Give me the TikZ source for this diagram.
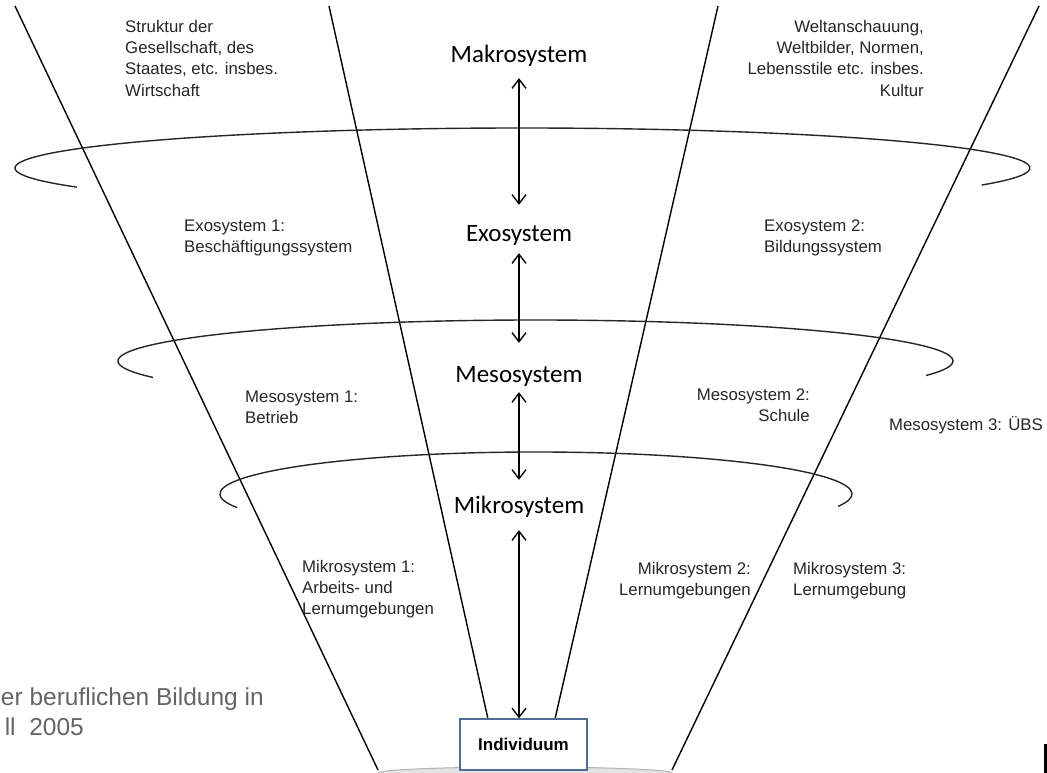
\documentclass[tikz,border=0pt]{standalone}
\usepackage{fontspec}
\setmainfont{Liberation Sans}
\newfontfamily\bigfont{Carlito}
\usetikzlibrary{arrows.meta}
\definecolor{boxblue}{RGB}{79,109,145}
\definecolor{capgray}{RGB}{100,100,100}
\begin{document}
\begin{tikzpicture}[x=1pt,y=-1pt,
  funnel/.style={line width=1.4pt, black},
  ring/.style={line width=1.4pt, black!85},
  lbl/.style={font=\fontsize{16.8}{21.3}\selectfont, text=black!85, inner sep=0pt},
  sys/.style={font=\bigfont\fontsize{25}{30}\selectfont, inner sep=0pt, anchor=base, text height=16pt, text depth=5pt},
  link/.style={line width=1.4pt, {Straight Barb[length=9pt,width=14pt]}-{Straight Barb[length=9pt,width=14pt]}},
  captext/.style={font=\fontsize{24.5}{30}\selectfont, text=capgray, inner sep=0pt, anchor=base east}
]
\useasboundingbox (0,0) rectangle (1047,773);
\clip (0,0) rectangle (1047,773);

% funnel lines
\draw[funnel] (15,6) -- (378,770);
\draw[funnel] (329,6) -- (488,719);
\draw[funnel] (718,6) -- (555,719);
\draw[funnel] (1039,6) -- (672,770);

% rings (open ellipses)
\draw[ring] (522.5,168) ++(151.4:507.5 and 40) arc[start angle=151.4, end angle=385.2, x radius=507.5, y radius=40];
\draw[ring] (535.5,361) ++(156.4:417.5 and 41) arc[start angle=156.4, end angle=380.7, x radius=417.5, y radius=41];
\draw[ring] (536,494) ++(161:316 and 42) arc[start angle=161, end angle=377, x radius=316, y radius=42];

% base ellipse and individual
\draw[fill=gray!22, draw=gray!60, line width=1pt] (525,773) ellipse [x radius=147, y radius=6];
\node[draw=boxblue, fill=white, line width=1.4pt, minimum width=127pt, minimum height=51pt, inner sep=0pt,
      font=\bfseries\fontsize{17}{20}\selectfont] (ind) at (523.5,744.5) {Individuum};

% system labels
\node[sys] (makro) at (519,63) {Makrosystem};
\node[sys] (exo) at (519,241) {Exosystem};
\node[sys] (meso) at (519,382) {Mesosystem};
\node[sys] (mikro) at (519,513) {Mikrosystem};

\draw[link, shorten <=10pt, shorten >=20pt] (makro.south) -- (exo.north);
\draw[link, shorten <=7pt, shorten >=23pt] (exo.south) -- (meso.north);
\draw[link, shorten <=5pt, shorten >=17pt] (meso.south) -- (mikro.north);
\draw[link, shorten <=12pt] (mikro.south) -- (mikro.south |- ind.north);

% side labels
\node[lbl, anchor=north west, align=left] (struktur) at (125,19.5) {\rule{0pt}{12.5pt}Struktur der\\Gesellschaft, des\\Staates, etc. insbes.\\Wirtschaft};
\node[lbl, anchor=north east, align=right] (welt) at (924,19.5) {\rule{0pt}{12.5pt}Weltanschauung,\\Weltbilder, Normen,\\Lebensstile etc. insbes.\\Kultur};
\node[lbl, anchor=north west, align=left] (exo1) at (184,218.5) {\rule{0pt}{12.5pt}Exosystem 1:\\Beschäftigungssystem};
\node[lbl, anchor=north west, align=left] (exo2) at (764,218.5) {\rule{0pt}{12.5pt}Exosystem 2:\\Bildungssystem};
\node[lbl, anchor=north west, align=left] (meso1) at (245,389.5) {\rule{0pt}{12.5pt}Mesosystem 1:\\Betrieb};
\node[lbl, anchor=north east, align=right] (meso2) at (810,387.5) {\rule{0pt}{12.5pt}Mesosystem 2:\\Schule};
\node[lbl, anchor=base east] (meso3) at (1043,430) {Mesosystem 3: ÜBS};
\node[lbl, anchor=north west, align=left] (mikro1) at (302,559.5) {\rule{0pt}{12.5pt}Mikrosystem 1:\\Arbeits- und\\Lernumgebungen};
\node[lbl, anchor=north east, align=right] (mikro2) at (751,561.5) {\rule{0pt}{12.5pt}Mikrosystem 2:\\Lernumgebungen};
\node[lbl, anchor=north west, align=left] (mikro3) at (793,561.5) {\rule{0pt}{12.5pt}Mikrosystem 3:\\Lernumgebung};

% cropped caption and logo fragment
\node[captext] (cap1) at (264,705) {er beruflichen Bildung in};
\node[captext] (cap2) at (84,735) {ll~~2005};
\fill[black] (1043.5,744) rectangle (1047,773);
\end{tikzpicture}
\end{document}
